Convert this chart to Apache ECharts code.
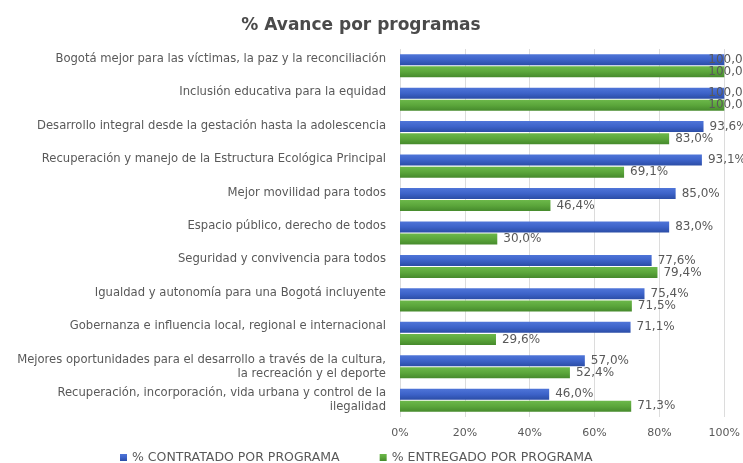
<!DOCTYPE html>
<html>
<head>
<meta charset="utf-8">
<script src="https://cdn.jsdelivr.net/npm/echarts@6/dist/echarts.min.js"></script>
<style>
  html, body { margin: 0; padding: 0; background: #fff; }
  #chart { width: 743px; height: 463px; }
</style>
</head>
<body>
<div id="chart"></div>
<script>
const categories = [
  'Bogotá mejor para las víctimas, la paz y la reconciliación',
  'Inclusión educativa para la equidad',
  'Desarrollo integral desde la gestación hasta la adolescencia',
  'Recuperación y manejo de la Estructura Ecológica Principal',
  'Mejor movilidad para todos',
  'Espacio público, derecho de todos',
  'Seguridad y convivencia para todos',
  'Igualdad y autonomía para una Bogotá incluyente',
  'Gobernanza e influencia local, regional e internacional',
  'Mejores oportunidades para el desarrollo a través de la cultura,\nla recreación y el deporte',
  'Recuperación, incorporación, vida urbana y control de la\nilegalidad',
]
const contratado = [100.0, 100.0, 93.6, 93.1, 85.0, 83.0, 77.6, 75.4, 71.1, 57.0, 46.0]
const entregado = [100.0, 100.0, 83.0, 69.1, 46.4, 30.0, 79.4, 71.5, 29.6, 52.4, 71.3]
const xTicks = [0, 20, 40, 60, 80, 100]

const fontFamily = '"DejaVu Sans", "Open Sans", sans-serif'
const textColor = '#595959'

const fmt = (v) => v.toFixed(1).replace('.', ',') + '%'

// etiquetas de 100% se desplazan hacia dentro, como en el original
const toItems = (arr) =>
  arr.map((v) => (v >= 99.9 ? { value: v, label: { offset: [-22, 0] } } : v))

const barGradient = (top, mid, bottom) =>
  new echarts.graphic.LinearGradient(0, 0, 0, 1, [
    { offset: 0, color: top },
    { offset: 0.5, color: mid },
    { offset: 1, color: bottom },
  ])

const chart = echarts.init(document.getElementById('chart'))

chart.setOption({
  animation: false,
  textStyle: { fontFamily },
  title: {
    text: '% Avance por programas',
    left: 356,
    textAlign: 'center',
    top: 12,
    textStyle: { fontSize: 17, fontWeight: 'bold', color: '#4a4a4a', fontFamily },
  },
  legend: {
    top: 446,
    left: 115,
    itemWidth: 7,
    itemHeight: 7,
    itemGap: 40,
    icon: 'rect',
    textStyle: { fontSize: 12.5, color: textColor, fontFamily },
    data: ['% CONTRATADO POR PROGRAMA', '% ENTREGADO POR PROGRAMA'],
  },
  grid: { left: 400, right: 16, top: 49, bottom: 46 },
  xAxis: {
    type: 'value',
    min: 0,
    max: 100,
    interval: 20,
    axisLine: { show: false },
    axisTick: { show: false },
    axisLabel: {
      color: textColor,
      fontSize: 11,
      margin: 11,
      formatter: (v) => (xTicks.includes(v) ? v + '%' : ''),
    },
    splitLine: { lineStyle: { color: '#dcdcdc' } },
  },
  yAxis: {
    type: 'category',
    inverse: true,
    data: categories,
    axisLine: { show: false },
    axisTick: { show: false },
    axisLabel: {
      color: textColor,
      fontSize: 11.6,
      lineHeight: 14,
      margin: 14,
      align: 'right',
      formatter: (v) => (v.includes('\n') ? v : v + '\n '),
    },
  },
  series: [
    {
      name: '% CONTRATADO POR PROGRAMA',
      type: 'bar',
      data: toItems(contratado),
      barWidth: 11,
      barGap: '10%',
      itemStyle: { color: barGradient('#4f75d8', '#3d63c9', '#2b4da6') },
      label: {
        show: true,
        position: 'right',
        distance: 6,
        color: textColor,
        fontSize: 12,
        formatter: (p) => fmt(p.value),
      },
    },
    {
      name: '% ENTREGADO POR PROGRAMA',
      type: 'bar',
      data: toItems(entregado),
      barWidth: 11,
      itemStyle: { color: barGradient('#6cb84a', '#5ba63b', '#468a2c') },
      label: {
        show: true,
        position: 'right',
        distance: 6,
        color: textColor,
        fontSize: 12,
        formatter: (p) => fmt(p.value),
      },
    },
  ],
})
</script>
</body>
</html>
